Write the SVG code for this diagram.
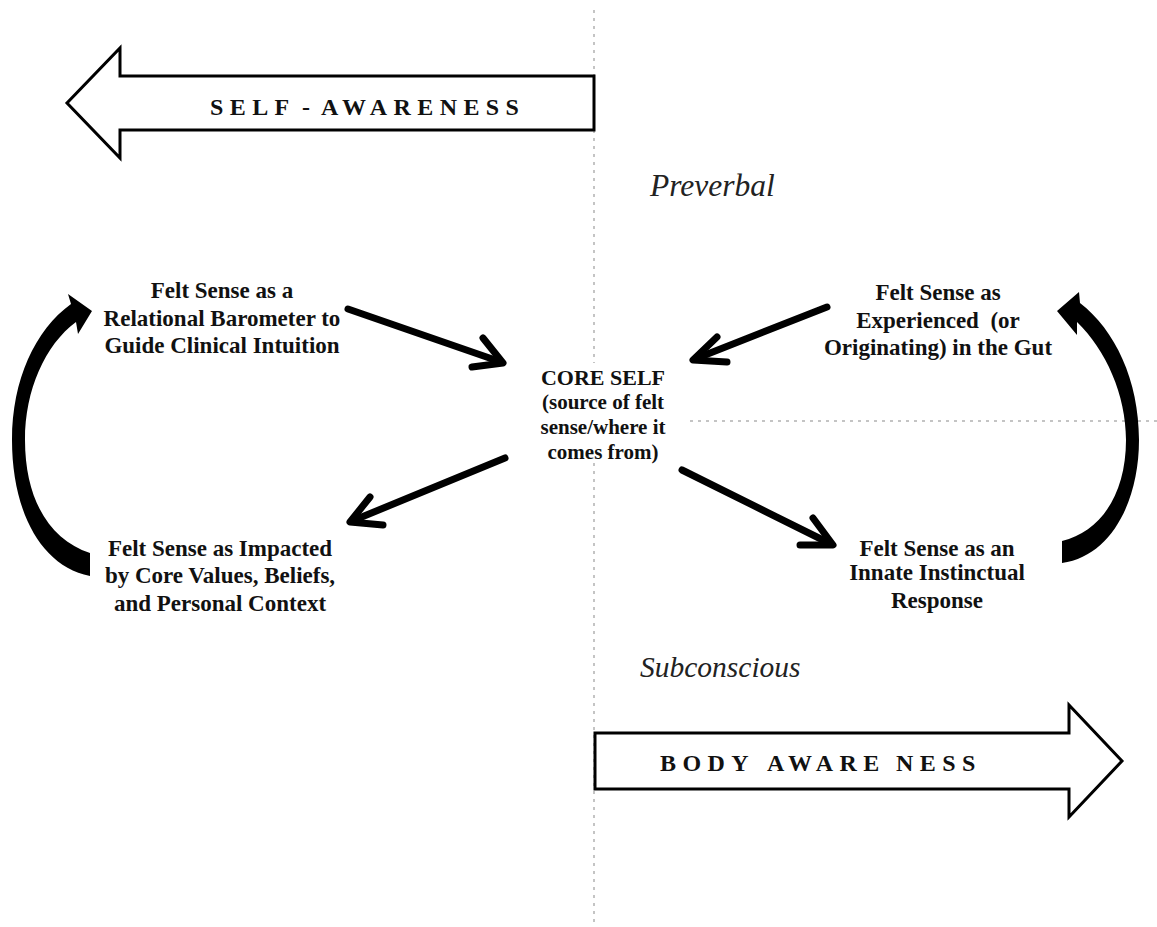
<svg xmlns="http://www.w3.org/2000/svg" width="1157" height="927" viewBox="0 0 1157 927">
<style>
.dot{stroke:#c4c4c4;stroke-width:2;stroke-dasharray:3 5;fill:none}
.big{fill:#fff;stroke:#000;stroke-width:3;stroke-linejoin:miter}
.band{font-family:"Liberation Serif","Times New Roman",serif;font-weight:bold;font-size:24px;fill:#111;letter-spacing:6.4px}
.lbl{font-family:"Liberation Serif","Times New Roman",serif;font-weight:bold;font-size:23px;fill:#111;text-anchor:middle}
.core{font-size:21px}
.ital{font-family:"Liberation Serif","Times New Roman",serif;font-style:italic;font-size:29.5px;fill:#222}
.ln{stroke:#000;stroke-width:7;stroke-linecap:round;stroke-linejoin:round;fill:none}
.curve{fill:#000}
</style>
<rect width="1157" height="927" fill="#fff"/>
<g id="guides">
<line class="dot" x1="594" y1="10" x2="594" y2="363"/>
<line class="dot" x1="594" y1="463" x2="594" y2="927"/>
<line class="dot" x1="690" y1="421" x2="1157" y2="421"/>
</g>
<g id="self-awareness">
<polygon class="big" points="594,76 120,76 120,48 67,103 120,158 120,130 594,130"/>
<text class="band" y="115"><tspan x="210">SELF</tspan> <tspan x="302">-</tspan> <tspan x="321">AWARENESS</tspan></text>
</g>
<g id="body-awareness">
<polygon class="big" points="595,733 1069,733 1069,705 1122,761 1069,817 1069,789 595,789"/>
<text class="band" y="771"><tspan x="660">BODY</tspan> <tspan x="767">AWARE</tspan> <tspan x="896">NESS</tspan></text>
</g>
<g id="preverbal"><text class="ital" x="650" y="196" style="font-size:31.5px">Preverbal</text></g>
<g id="subconscious"><text class="ital" x="640" y="677">Subconscious</text></g>
<g id="core-self">
<text class="lbl core" x="603" y="385" style="font-size:22px">CORE SELF</text>
<text class="lbl core" x="603" y="409">(source of felt</text>
<text class="lbl core" x="603" y="434">sense/where it</text>
<text class="lbl core" x="603" y="459">comes from)</text>
</g>
<g id="relational-barometer">
<text class="lbl" x="222" y="298">Felt Sense as a</text>
<text class="lbl" x="222" y="326">Relational Barometer to</text>
<text class="lbl" x="222" y="353">Guide Clinical Intuition</text>
</g>
<g id="core-values">
<text class="lbl" x="220" y="556">Felt Sense as Impacted</text>
<text class="lbl" x="220" y="583">by Core Values, Beliefs,</text>
<text class="lbl" x="220" y="611">and Personal Context</text>
</g>
<g id="gut">
<text class="lbl" x="938" y="300">Felt Sense as</text>
<text class="lbl" x="938" y="328" xml:space="preserve">Experienced  (or</text>
<text class="lbl" x="938" y="355">Originating) in the Gut</text>
</g>
<g id="instinctual">
<text class="lbl" x="937" y="556">Felt Sense as an</text>
<text class="lbl" x="937" y="580">Innate Instinctual</text>
<text class="lbl" x="937" y="608">Response</text>
</g>
<g id="connectors">
<line class="ln" x1="348" y1="309" x2="501" y2="362"/>
<polyline class="ln" points="483,338 503,363 472,367"/>
<line class="ln" x1="827" y1="307" x2="695" y2="359"/>
<polyline class="ln" points="717,337 693,360 727,362"/>
<line class="ln" x1="505" y1="458" x2="352" y2="521"/>
<polyline class="ln" points="370,497 350,522 383,525"/>
<line class="ln" x1="682" y1="470" x2="831" y2="544"/>
<polyline class="ln" points="813,518 833,545 800,545"/>
<path class="curve" d="M90,553 L90,576 C40,566 12,510 12,440 C12,380 35,330 71,304 L68,294 L92,311 L78,334 L76,322 C45,345 25,390 25,440 C25,500 50,540 90,553 Z"/>
<path class="curve" d="M1062,541 L1062,563 C1112,556 1139,500 1139,440 C1139,380 1115,330 1080,303 L1079,292 L1057,311 L1077,335 L1077,322 C1106,350 1126,395 1126,440 C1126,495 1100,532 1062,541 Z"/>
</g>
</svg>
